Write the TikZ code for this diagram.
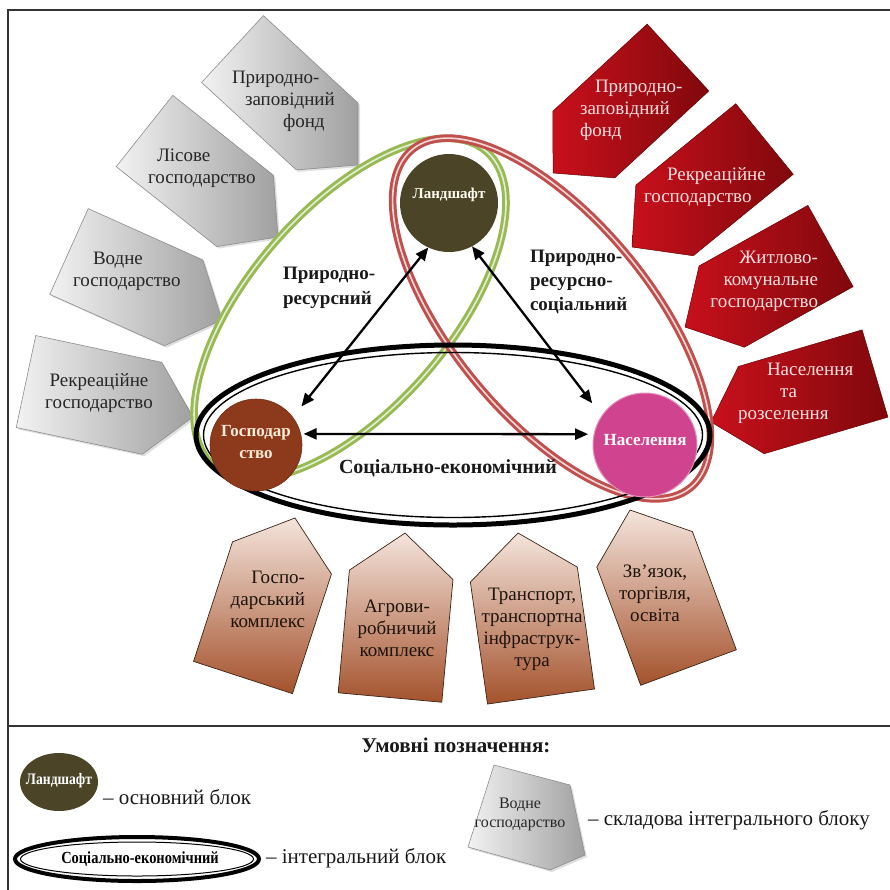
\documentclass[tikz,border=0pt]{standalone}
\usepackage{fontspec}
\setmainfont{Liberation Serif}
\usetikzlibrary{calc,arrows.meta,shadows,shapes.geometric}
\definecolor{grayL}{HTML}{F2F2F2}
\definecolor{grayD}{HTML}{A0A0A0}
\definecolor{grayE}{HTML}{8C8C8C}
\definecolor{redL}{HTML}{C8101C}
\definecolor{redD}{HTML}{80080C}
\definecolor{redE}{HTML}{6A0000}
\definecolor{brownL}{HTML}{F4E4DC}
\definecolor{brownD}{HTML}{A4522C}
\definecolor{brownE}{HTML}{3B2415}
\definecolor{greenE}{HTML}{98BA55}
\definecolor{greenM}{HTML}{E4EED2}
\definecolor{redEl}{HTML}{C0504D}
\definecolor{redM}{HTML}{F2D8D7}
\definecolor{landC}{HTML}{4B4427}
\definecolor{gospC}{HTML}{8D391B}
\definecolor{nasC}{HTML}{D0448F}
\definecolor{frameC}{HTML}{333333}
\newcommand\pentagonbox[5]{%
  \coordinate (#1-b) at #2;
  \coordinate (#1-t) at #3;
  \coordinate (#1-s) at ($(#1-t)!42pt!(#1-b)$);
  \path[#5] ($(#1-b)!#4pt!90:(#1-t)$) -- ($(#1-s)!#4pt!90:(#1-t)$) -- (#1-t)
     -- ($(#1-s)!#4pt!-90:(#1-t)$) -- ($(#1-b)!#4pt!-90:(#1-t)$) -- cycle;
}
\begin{document}
\begin{tikzpicture}[x=1pt,y=-1pt,
  every node/.style={inner sep=0pt,outer sep=0pt},
  graybox/.style={shade,left color=grayL,right color=grayD,draw=grayE,line width=0.6pt,
     drop shadow={shadow xshift=2pt,shadow yshift=-2pt,opacity=0.25}},
  redbox/.style={shade,left color=redL,right color=redD,draw=redE,line width=0.5pt},
  brownbox/.style={shade,top color=brownL,bottom color=brownD,draw=brownE,line width=0.7pt},
  boxtext/.style={font=\fontsize{19}{22}\selectfont},
  gtext/.style={boxtext,text=black!85},
  rtext/.style={boxtext,text=white!88!red},
  btext/.style={boxtext,text=black!85!brown,align=center},
  blabel/.style={font=\fontsize{19}{25}\selectfont\bfseries,text=black!90},
  circtext/.style={font=\fontsize{15}{22}\selectfont\bfseries,align=center},
  arr/.style={{Triangle[length=13pt,width=11pt]}-{Triangle[length=13pt,width=11pt]},line width=2.3pt,black},
  legtext/.style={font=\fontsize{21}{24}\selectfont,text=black!90},
  frame/.style={draw=frameC,line width=2pt},
  intblock/.style={ellipse,double distance=1.6pt,line width=3pt}
]
\useasboundingbox (0,0) rectangle (890,889);
\fill[white] (0,0) rectangle (890,889);
% frame
\draw[frame] (8,10) rectangle (900,900);
\draw[frame] (8,726) -- (900,726);

% grey pentagons
\pentagonbox{g1}{(232.5,49)}{(358,165)}{45.5}{graybox}
\pentagonbox{g2}{(144.5,131)}{(278,237)}{45.5}{graybox}
\pentagonbox{g3}{(69,251.5)}{(222,320)}{47}{graybox}
\pentagonbox{g4}{(26,381.5)}{(193,417)}{47}{graybox}
% red pentagons
\pentagonbox{r1}{(678,57.5)}{(553,173)}{45.5}{redbox}
\pentagonbox{r2}{(764.5,139)}{(632,247)}{45.5}{redbox}
\pentagonbox{r3}{(830.5,246)}{(685,327)}{46.5}{redbox}
\pentagonbox{r4}{(875,373.5)}{(711,422)}{45.5}{redbox}
% brown pentagons
\pentagonbox{b1}{(243,677.5)}{(295,518)}{52}{brownbox}
\pentagonbox{b2}{(390,697.5)}{(405,533)}{52}{brownbox}
\pentagonbox{b3}{(541,696.5)}{(518,533)}{54}{brownbox}
\pentagonbox{b4}{(688.5,667.5)}{(630,510)}{51}{brownbox}

% texts of pentagons
\node[gtext,align=left,anchor=west] (tg1) at (232,101) {Природно-\\\hspace*{13pt}заповідний\\\hspace*{51pt}фонд};
\node[gtext,align=left,anchor=west] (tg2) at (148,168.5) {\hspace*{9pt}Лісове\\господарство};
\node[gtext,align=left,anchor=west] (tg3) at (73,271.5) {\hspace*{20pt}Водне\\господарство};
\node[gtext,align=center] (tg4) at (99,393.5) {Рекреаційне\\господарство};
\node[rtext,align=left,anchor=west] (tr1) at (580,110) {\hspace*{15pt}Природно-\\заповідний\\фонд};
\node[rtext,align=left,anchor=west] (tr2) at (644,187.5) {\hspace*{23pt}Рекреаційне\\господарство};
\node[rtext,align=right,anchor=east] (tr3) at (818,281.5) {Житлово-\\комунальне\\господарство};
\node[rtext,align=left,anchor=west] (tr4) at (738,393.5) {\hspace*{29pt}Населення\\\hspace*{42pt}та\\розселення};
\node[btext,align=right,anchor=east] (tb1) at (305,599) {Госпо-\\дарський\\комплекс};
\node[btext] (tb2) at (397,628) {Агрови-\\робничий\\комплекс};
\node[btext] (tb3) at (532,629) {Транспорт,\\транспортна\\інфраструк-\\тура};
\node[btext] (tb4) at (655,593) {Зв’язок,\\торгівля,\\освіта};

% integral blocks (ellipses)
\node[intblock,draw=greenE,double=greenM,
      minimum width=416pt,minimum height=200pt,rotate=49] (prEll) at (350,308.5) {};
\node[intblock,draw=redEl,double=redM,
      minimum width=438pt,minimum height=198pt,rotate=-50.5] (prsEll) at (551.5,318.5) {};
\node[ellipse,draw=black,line width=5pt,minimum width=514pt,minimum height=180pt] (seEll) at (453,435) {};
\node[ellipse,draw=black,line width=1.4pt,minimum width=499pt,minimum height=165pt] (seEllIn) at (453,435) {};

% basic blocks
\node[circle,fill=landC,minimum size=98pt] (land) at (449,203) {};
\node[circtext,text=white!95!yellow] (landT) at (449,195) {Ландшафт};
\node[circle,fill=gospC,draw=gospC!80!black,line width=0.6pt,minimum size=92pt] (gosp) at (256,445) {};
\node[circtext,font=\fontsize{17}{22}\selectfont\bfseries,text=white!85!orange] (gospT) at (256,442) {Господар\\ство};
\node[circle,fill=nasC,draw=nasC!60!white,line width=1pt,minimum size=104pt] (nas) at (645,445) {};
\node[circtext,font=\fontsize{17}{22}\selectfont\bfseries,text=white!95!pink] (nasT) at (645,440) {Населення};

% arrows
\draw[arr,shorten >=14pt] (land.245) -- (gosp.37);
\draw[arr,shorten >=16pt] (land.298) -- (nas.146);
\draw[arr,shorten <=3pt,shorten >=6pt] (gosp.14) -- (nas.168);

% labels of integral blocks
\node[blabel,align=left,anchor=west] (lblPR) at (283,288) {Природно-\\ресурсний};
\node[blabel,align=left,anchor=west,font=\fontsize{19}{24}\selectfont\bfseries] (lblPRS) at (530,282) {Природно-\\ресурсно-\\соціальний};
\node[blabel,font=\fontsize{20}{24}\selectfont\bfseries] (lblSE) at (448,468) {Соціально-економічний};

% legend
\node[blabel,font=\fontsize{21}{24}\selectfont\bfseries] (legTitle) at (456,745) {Умовні позначення:};
\node[ellipse,fill=landC,minimum width=78pt,minimum height=58pt] (legLand) at (59,782) {};
\node[font=\fontsize{16}{18}\selectfont\bfseries,text=white] (legLandT) at (59,781) {\scalebox{0.85}[1]{Ландшафт}};
\node[legtext,anchor=west] (legLandD) at (103,797) {– основний блок};
\node[ellipse,draw=black,line width=4pt,minimum width=244pt,minimum height=44pt] (legSE) at (137,859) {};
\node[ellipse,draw=black,line width=1pt,minimum width=233pt,minimum height=34pt] (legSEin) at (137,859) {};
\node[font=\fontsize{17}{19}\selectfont\bfseries] (legSET) at (140,859) {\scalebox{0.85}[1]{Соціально-економічний}};
\node[legtext,anchor=west] (legSED) at (266,858) {– інтегральний блок};
\path[graybox] (494,765) -- (570,785) -- (585,855) -- (550,870) -- (468,847) -- cycle;
\node[font=\fontsize{16}{19}\selectfont,align=center,text=black!85] (legGT) at (520,814) {Водне\\господарство};
\node[legtext,anchor=west] (legGD) at (588,820) {– складова інтегрального блоку};
\end{tikzpicture}
\end{document}
